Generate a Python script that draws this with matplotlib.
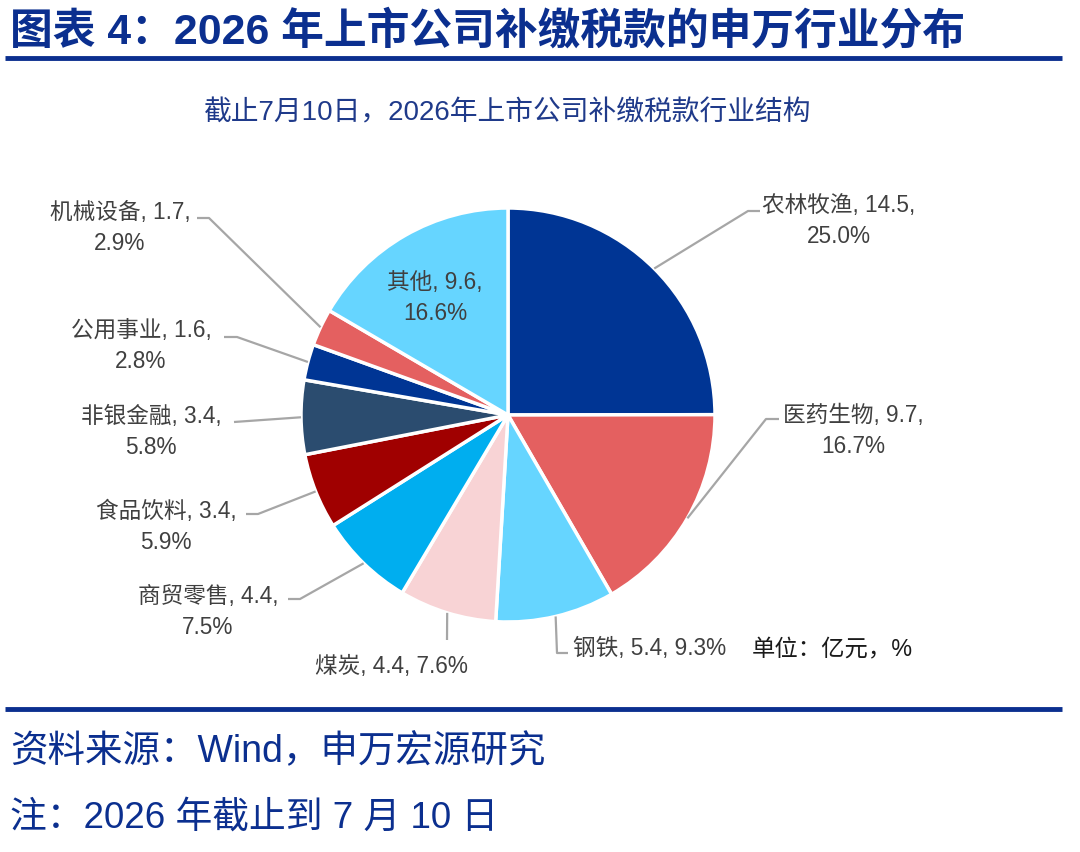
import numpy as np
import matplotlib
matplotlib.use("Agg")
import matplotlib.pyplot as plt

plt.rcParams["font.family"] = ["Liberation Sans", "Noto Sans CJK SC", "DejaVu Sans"]

# data
industries = ["农林牧渔", "医药生物", "钢铁", "煤炭", "商贸零售",
              "食品饮料", "非银金融", "公用事业", "机械设备", "其他"]
amounts = [14.5, 9.7, 5.4, 4.4, 4.4, 3.4, 3.4, 1.6, 1.7, 9.6]
shares = [25.0, 16.7, 9.3, 7.6, 7.5, 5.9, 5.8, 2.8, 2.9, 16.6]
colors = ["#003594", "#E46060", "#66D5FF", "#F8D3D5", "#00AEEF",
          "#A00000", "#2B4C6F", "#003594", "#E46060", "#66D5FF"]

NAVY = "#0B2F8F"
W, H = 1080, 852

fig = plt.figure(figsize=(W / 100, H / 100), dpi=100)
ax = fig.add_axes([0, 0, 1, 1])
ax.set_xlim(0, W)
ax.set_ylim(0, H)
ax.set_aspect("equal")
ax.axis("off")


def py(y):
    # pixel row -> data y
    return H - y


cx, cy, r = 508, 415, 207

wedges, _ = ax.pie(shares, colors=colors, startangle=90, counterclock=False,
                   center=(cx, py(cy)), radius=r,
                   wedgeprops=dict(edgecolor="white", linewidth=2.5))
ax.set_xlim(0, W)
ax.set_ylim(0, H)

# label layout in pixels: text centre, leader elbow, leader end
label_pos = {
    "农林牧渔": ((839, 221), (748, 211), (760, 211)),
    "医药生物": ((853, 431), (766, 419), (779, 419)),
    "钢铁": ((650, 648), (557, 653), (568, 653)),
    "煤炭": ((391, 667), None, (447, 640)),
    "商贸零售": ((208, 612), (300, 599), (288, 599)),
    "食品饮料": ((166, 527), (258, 514), (246, 514)),
    "非银金融": ((151, 432), None, (234, 422)),
    "公用事业": ((141, 346), (237, 337), (224, 337)),
    "机械设备": ((120, 228), (209, 218), (197, 218)),
    "其他": ((435, 298), None, None),
}
single_line = {"钢铁", "煤炭"}

for w, name, amt, sh in zip(wedges, industries, amounts, shares):
    (tx, ty), elbow, end = label_pos[name]
    if name in single_line:
        txt = f"{name}, {amt}, {sh:.1f}%"
    else:
        txt = f"{name}, {amt},\n{sh:.1f}%"
    ax.text(tx, py(ty), txt, ha="center", va="center", fontsize=16.3,
            color="#404040", linespacing=1.4, multialignment="center")
    if end is not None:
        ang = np.deg2rad((w.theta1 + w.theta2) / 2)
        xs = [cx + r * np.cos(ang)]
        ys = [py(cy) + r * np.sin(ang)]
        if elbow is not None:
            xs.append(elbow[0])
            ys.append(py(elbow[1]))
        xs.append(end[0])
        ys.append(py(end[1]))
        ax.plot(xs, ys, color="#A6A6A6", lw=1.6, solid_capstyle="butt")

# title and rules
ax.text(10, py(32), "图表 4：2026 年上市公司补缴税款的申万行业分布",
        ha="left", va="center", fontsize=30.8, fontweight="bold", color=NAVY)
ax.plot([5, 1062], [py(58), py(58)], color=NAVY, lw=3.5, solid_capstyle="butt")
ax.text(508, py(113), "截止7月10日，2026年上市公司补缴税款行业结构",
        ha="center", va="center", fontsize=20, color="#1F3A8A")
ax.text(752, py(650), "单位：亿元，%", ha="left", va="center",
        fontsize=16.8, color="#1A1A1A")
ax.plot([5, 1062], [py(709), py(709)], color=NAVY, lw=3.5, solid_capstyle="butt")
ax.text(10, py(752), "资料来源：Wind，申万宏源研究", ha="left", va="center",
        fontsize=27, color=NAVY)
ax.text(10, py(818), "注：2026 年截止到 7 月 10 日", ha="left", va="center",
        fontsize=26.5, color=NAVY)

fig.savefig("out.png", dpi=100)
